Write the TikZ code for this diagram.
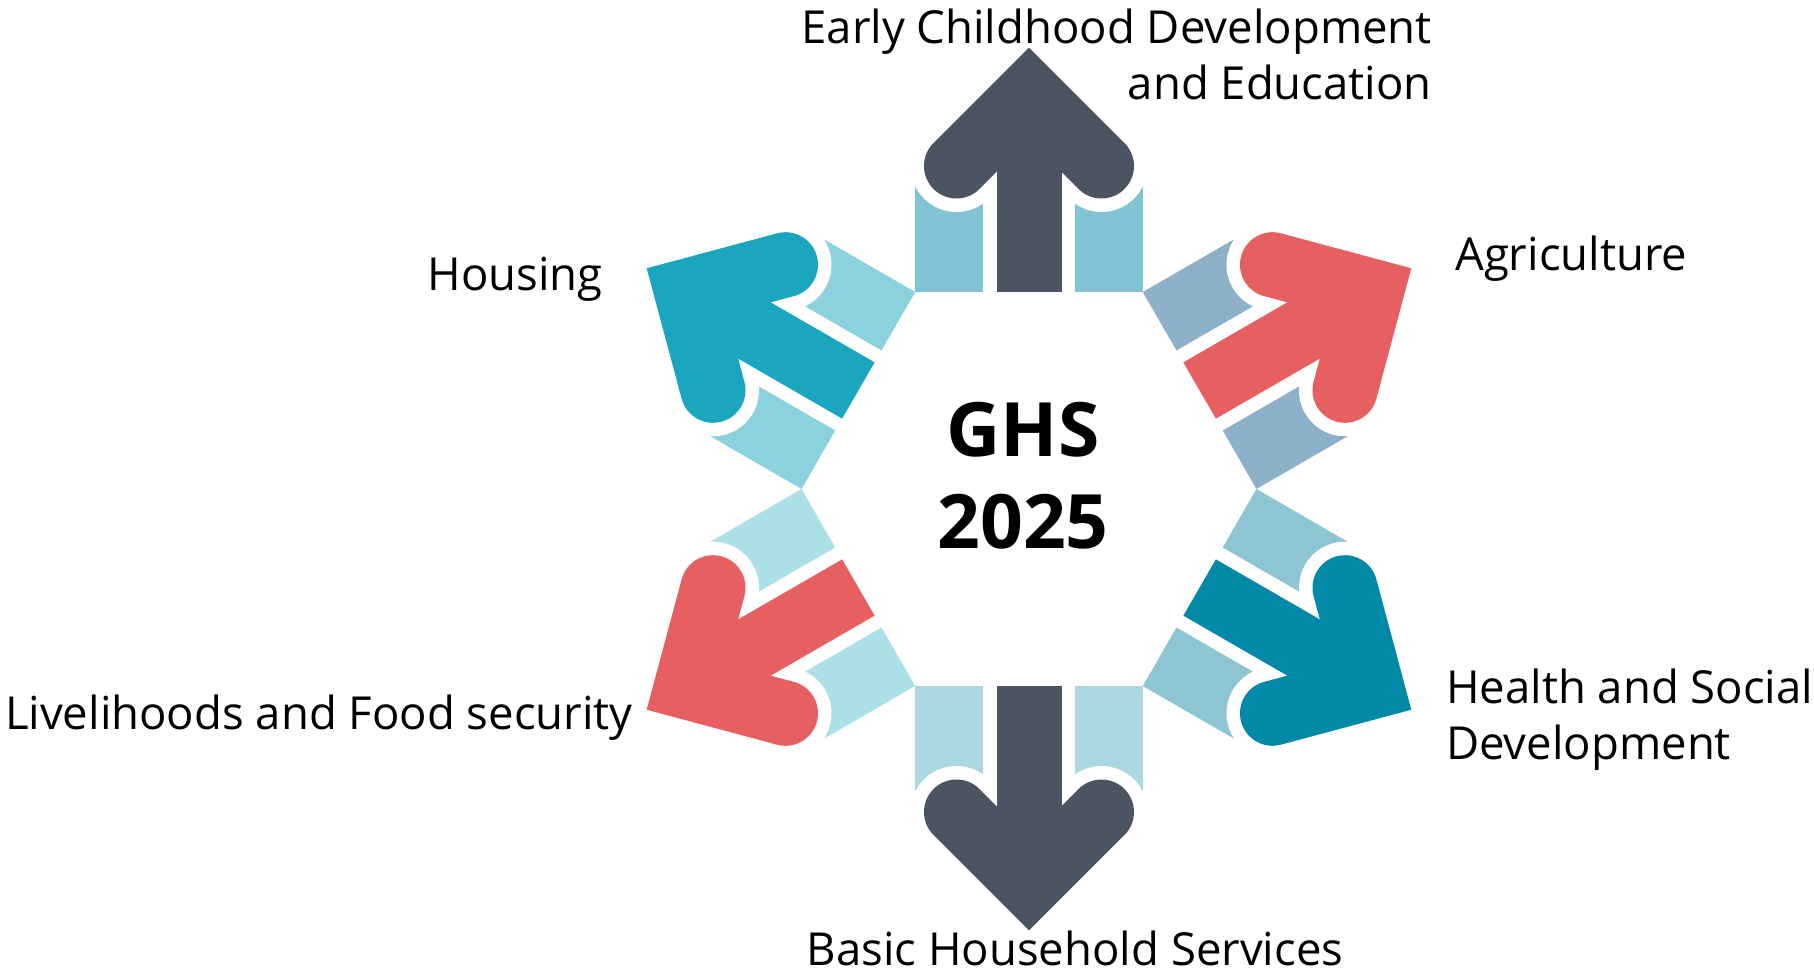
\documentclass[tikz,border=0pt]{standalone}
\usepackage{fontspec}
\setmainfont{Open Sans}
\definecolor{slate}{HTML}{4B5463}
\definecolor{coral}{HTML}{E65F61}
\definecolor{lagoon}{HTML}{1BA6BF}
\definecolor{petrol}{HTML}{0389A8}
\definecolor{pieceN}{HTML}{82C3D6}
\definecolor{pieceNE}{HTML}{8DB1C9}
\definecolor{pieceSE}{HTML}{8DC5D3}
\definecolor{pieceS}{HTML}{ABD7E0}
\definecolor{pieceSW}{HTML}{ABE1E6}
\definecolor{pieceNW}{HTML}{8CD2DE}
\tikzset{
    label/.style={inner sep=0pt, font=\fontsize{45.5}{55.5}\selectfont},
    centre/.style={inner sep=0pt, font=\fontsize{75}{92}\selectfont\bfseries}
}
\begin{document}
\begin{tikzpicture}[x=1pt, y=1pt]
    \useasboundingbox (-1029,-488) rectangle (785,489);
    \foreach \ang/\arrowcol/\piececol in {90/slate/pieceN, 30/coral/pieceNE, -30/petrol/pieceSE,
        -90/slate/pieceS, 210/coral/pieceSW, 150/lagoon/pieceNW}{
        \begin{scope}[rotate=\ang-90]
            \fill[\piececol] (-113.7,197) rectangle (-46,330);
            \fill[\piececol] (46,197) rectangle (113.7,330);
            \draw[white, line width=92, line cap=round, line join=miter] (-72.5,323) -- (0,395.5) -- (72.5,323);
            \draw[white, line width=92] (0,190) -- (0,395.5);
            \draw[\arrowcol, line width=65, line cap=round, line join=miter] (-72.5,323) -- (0,395.5) -- (72.5,323);
            \draw[\arrowcol, line width=65] (0,197) -- (0,395.5);
        \end{scope}
    }

    \node[label, anchor=base east, align=right] (ecd) at (403,389.5) {Early Childhood Development\\and Education};
    \node[label, anchor=base west] (agri) at (426,218) {Agriculture};
    \node[label, anchor=base west, align=left] (health) at (417,-270) {Health and Social\\Development};
    \node[label, anchor=base] (basic) at (46,-476) {Basic Household Services};
    \node[label, anchor=base east] (food) at (-396,-240) {Livelihoods and Food security};
    \node[label, anchor=base east] (housing) at (-426,198.5) {Housing};
    \node[centre, anchor=base, align=center] (ghs) at (-6,-59) {GHS\\2025};
\end{tikzpicture}
\end{document}
